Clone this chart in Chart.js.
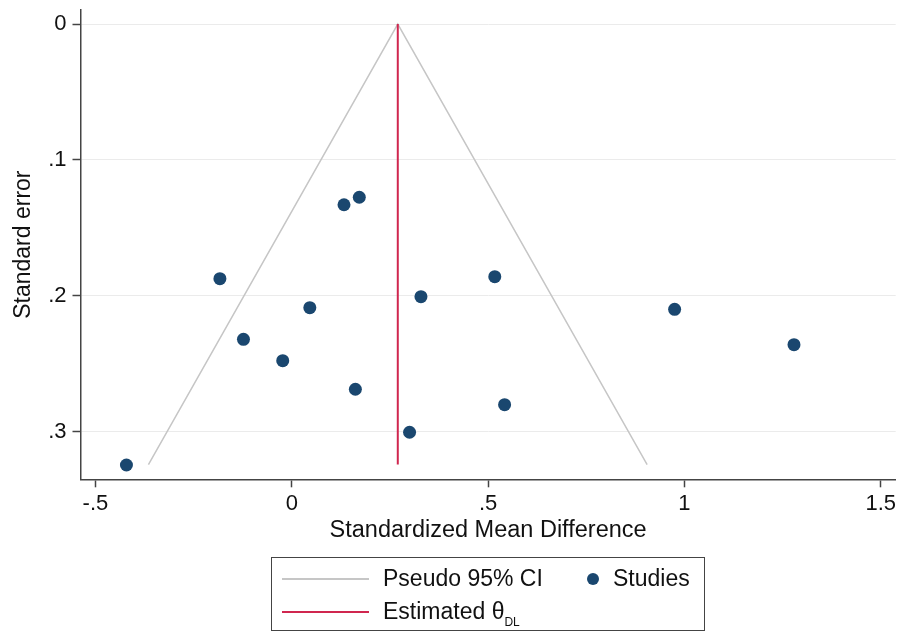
<!DOCTYPE html>
<html>
<head>
<meta charset="utf-8">
<script src="https://cdn.jsdelivr.net/npm/chart.js@4/dist/chart.umd.min.js"></script>
<style>
  html, body { margin: 0; padding: 0; background: #fff; }
  #wrap { position: relative; width: 899px; height: 633px; }
  #legend { position: absolute; left: 271px; top: 557px; width: 434px; height: 74px;
    border: 1.5px solid #444; box-sizing: border-box; font-family: "Liberation Sans", Arial, Helvetica, sans-serif;
    font-size: 23px; color: #111; }
  .sw { position: absolute; height: 0; }
  .lbl { position: absolute; line-height: 1; white-space: nowrap; }
  .dot { position: absolute; width: 12px; height: 12px; border-radius: 50%; background: #1a476f; }
  sub { font-size: 12px; vertical-align: -7px; }
</style>
</head>
<body>
<div id="wrap">
  <canvas id="c" width="899" height="633"></canvas>
  <div id="legend">
    <div class="sw" style="left:10px; top:20px; width:87px; border-top:2px solid #c6c6c6;"></div>
    <div class="lbl" style="left:111px; top:9px;">Pseudo 95% CI</div>
    <div class="dot" style="left:315px; top:15px;"></div>
    <div class="lbl" style="left:341px; top:9px;">Studies</div>
    <div class="sw" style="left:10px; top:53px; width:87px; border-top:2px solid #d0264f;"></div>
    <div class="lbl" style="left:111px; top:42px;">Estimated θ<sub>DL</sub></div>
  </div>
</div>
<script>
// Studies: standardized mean difference (x) and standard error (y)
const studySMD = [0.133, 0.172, -0.183, 0.046, 0.329, 0.517, 0.975, -0.123, -0.023, 0.162, 0.300, -0.421, 0.542, 1.279];
const studySE  = [0.1329, 0.1274, 0.1873, 0.2086, 0.2005, 0.1858, 0.2098, 0.2319, 0.2476, 0.2686, 0.3002, 0.3243, 0.2799, 0.2358];

// Pseudo 95% CI funnel
const ciX = [-0.365, 0.270, 0.905];
const ciY = [0.324, 0.0, 0.324];

// Estimated theta (DL)
const thetaX = [0.270, 0.270];
const thetaY = [0.0, 0.324];

// Tick values and labels
const xTickValues = [-0.5, 0, 0.5, 1, 1.5];
const xTickLabels = ["-.5", "0", ".5", "1", "1.5"];
const yTickValues = [0, 0.1, 0.2, 0.3];
const yTickLabels = ["0", ".1", ".2", ".3"];

const FONT = '"Liberation Sans", Arial, Helvetica, sans-serif';

const toPts = (xs, ys) => xs.map((x, i) => ({ x: x, y: ys[i] }));

new Chart(document.getElementById('c'), {
  type: 'scatter',
  data: {
    datasets: [
      {
        label: 'Studies',
        data: toPts(studySMD, studySE),
        backgroundColor: '#1a476f',
        borderColor: '#1a476f',
        pointRadius: 6.5,
        pointHoverRadius: 6.5,
        borderWidth: 0,
        showLine: false
      },
      {
        label: 'Estimated θDL',
        data: toPts(thetaX, thetaY),
        showLine: true,
        borderColor: '#d0264f',
        borderWidth: 2,
        pointRadius: 0,
        fill: false
      },
      {
        label: 'Pseudo 95% CI',
        data: toPts(ciX, ciY),
        showLine: true,
        borderColor: '#c6c6c6',
        borderWidth: 1.5,
        pointRadius: 0,
        fill: false,
        tension: 0
      }
    ]
  },
  options: {
    responsive: false,
    animation: false,
    events: [],
    layout: { autoPadding: false, padding: { top: 10, right: 3.3, left: 0, bottom: 88 } },
    plugins: { legend: { display: false }, tooltip: { enabled: false } },
    scales: {
      x: {
        type: 'linear',
        min: -0.538,
        max: 1.538,
        afterBuildTicks: (s) => { s.ticks = xTickValues.map(v => ({ value: v })); },
        afterFit: (s) => { s.height = 65.7; s.paddingLeft = 0; s.paddingRight = 0; },
        border: { display: true, color: '#444', width: 1.5 },
        grid: { drawOnChartArea: false, drawTicks: true, tickLength: 8, tickColor: '#444', tickWidth: 1.5 },
        ticks: {
          padding: 3,
          autoSkip: false,
          maxRotation: 0,
          color: '#111',
          font: { family: FONT, size: 22 },
          callback: (v) => { const i = xTickValues.indexOf(v); return i >= 0 ? xTickLabels[i] : ''; }
        },
        title: {
          display: true,
          text: 'Standardized Mean Difference',
          color: '#111',
          font: { family: FONT, size: 23.5 },
          padding: { top: 0, bottom: 0 }
        }
      },
      y: {
        type: 'linear',
        reverse: true,
        min: -0.0103,
        max: 0.3348,
        afterBuildTicks: (s) => { s.ticks = yTickValues.map(v => ({ value: v })); },
        afterFit: (s) => { s.width = 80.5; s.paddingTop = 0; s.paddingBottom = 0; },
        border: { display: true, color: '#444', width: 1.5 },
        grid: { drawOnChartArea: true, color: '#ebebeb', lineWidth: 1, drawTicks: true, tickLength: 8, tickColor: '#444', tickWidth: 1.5 },
        ticks: {
          padding: 6,
          color: '#111',
          font: { family: FONT, size: 22 },
          callback: (v) => { const i = yTickValues.indexOf(v); return i >= 0 ? yTickLabels[i] : ''; }
        },
        title: {
          display: true,
          text: 'Standard error',
          color: '#111',
          font: { family: FONT, size: 23 },
          padding: { top: 10, bottom: 0 }
        }
      }
    }
  }
});
</script>
</body>
</html>
